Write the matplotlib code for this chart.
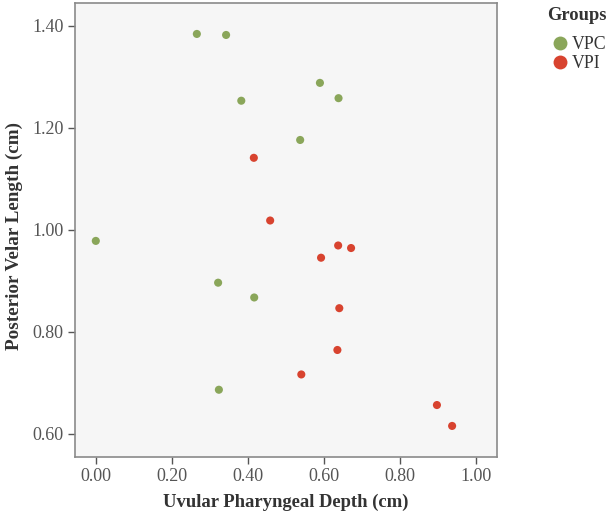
import numpy as np
import matplotlib
matplotlib.use('Agg')
import matplotlib.pyplot as plt
from matplotlib.lines import Line2D

plt.rcParams['font.family'] = ['Liberation Serif', 'DejaVu Serif']

# uvular pharyngeal depth vs posterior velar length, per group
vpc_depth = [0.266, 0.343, 0.383, 0.590, 0.639, 0.538, 0.000, 0.322, 0.417, 0.324]
vpc_length = [1.384, 1.382, 1.253, 1.288, 1.258, 1.176, 0.978, 0.896, 0.867, 0.686]

vpi_depth = [0.416, 0.459, 0.638, 0.672, 0.593, 0.641, 0.636, 0.541, 0.898, 0.938]
vpi_length = [1.141, 1.018, 0.969, 0.964, 0.945, 0.846, 0.764, 0.716, 0.656, 0.615]

groups = ['VPC', 'VPI']
colors = ['#8aa65a', '#d8432f']

x_ticks = [0.0, 0.2, 0.4, 0.6, 0.8, 1.0]
y_ticks = [0.6, 0.8, 1.0, 1.2, 1.4]

W, H = 609, 517
fig = plt.figure(figsize=(W / 100, H / 100), dpi=100)
ax = fig.add_axes([0.123, 0.116, 0.693, 0.878])
ax.set_facecolor('#f6f6f6')

ax.scatter(vpc_depth, vpc_length, s=34, color=colors[0], edgecolors='none', zorder=3)
ax.scatter(vpi_depth, vpi_length, s=34, color=colors[1], edgecolors='none', zorder=3)

ax.set_xlim(-0.055, 1.056)
ax.set_ylim(0.554, 1.4445)
ax.set_xticks(x_ticks)
ax.set_yticks(y_ticks)
ax.set_xticklabels(['%.2f' % v for v in x_ticks])
ax.set_yticklabels(['%.2f' % v for v in y_ticks])

for sp in ax.spines.values():
    sp.set_color('#8a8a8a')
    sp.set_linewidth(1.2)
ax.tick_params(direction='out', length=5, width=1, color='#555555',
               labelsize=13, labelcolor='#555555', pad=3)

ax.set_xlabel('Uvular Pharyngeal Depth (cm)', fontsize=13.4, fontweight='bold',
              color='#333333', labelpad=6)
ax.set_ylabel('Posterior Velar Length (cm)', fontsize=13.8, fontweight='bold',
              color='#333333', va='center', ha='center')
# put the label centre at x=14px in figure pixels
ax.yaxis.set_label_coords(14 / W, 1 - 236 / H, transform=fig.transFigure)

# legend: title drawn as figure text, entries below
fig.text(547 / W, 1 - 15 / H, 'Groups', fontsize=13.3, fontweight='bold',
         color='#333333', ha='left', va='center')
handles = [Line2D([], [], marker='o', linestyle='none', markersize=10,
                  markerfacecolor=c, markeredgecolor='none') for c in colors]
leg = fig.legend(handles, groups, loc='upper left',
                 bbox_to_anchor=(551 / W, 1 - 36 / H), frameon=False, fontsize=12.8,
                 handletextpad=0.15, labelspacing=0.12, borderaxespad=0,
                 borderpad=0, handlelength=1.0)
for t in leg.get_texts():
    t.set_color('#333333')

fig.savefig('out.png', dpi=100)
